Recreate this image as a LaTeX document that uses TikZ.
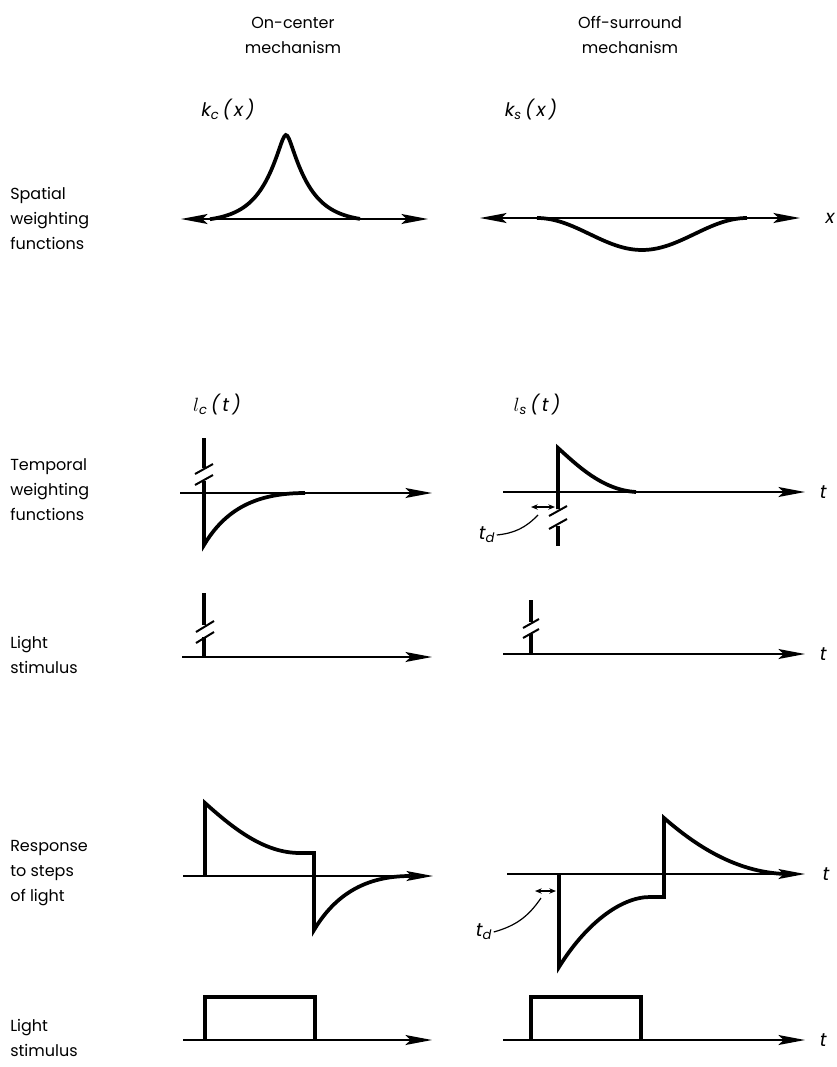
\documentclass[tikz,border=0pt]{standalone}
\usepackage{fontspec}
\setmainfont{Poppins}
\usepackage{tikz}
\usetikzlibrary{arrows.meta, positioning, calc}
\definecolor{ink}{RGB}{0,0,0}
\tikzset{
  axis/.style={-{Stealth[length=20pt,width=7.5pt,inset=4pt]}, line width=1.1pt, color=ink},
  daxis/.style={{Stealth[length=20pt,width=7.5pt,inset=4pt]}-{Stealth[length=20pt,width=7.5pt,inset=4pt]},
    line width=1.1pt, color=ink},
  wave/.style={line width=2.8pt, color=ink},
  brkmark/.style={line width=1.5pt, color=ink},
  tdarrow/.style={{Stealth[length=5pt,width=4pt]}-{Stealth[length=5pt,width=4pt]}, line width=0.9pt, color=ink},
  leader/.style={line width=0.9pt, color=ink},
  rowlabel/.style={anchor=west, align=left, inner sep=0pt, font=\fontsize{12}{18.75}\selectfont},
  collabel/.style={align=center, inner sep=0pt, font=\fontsize{12}{18.75}\selectfont},
  varlabel/.style={inner sep=1pt, font=\fontsize{14}{16}\selectfont\itshape}
}
\begin{document}
\begin{tikzpicture}[x=0.75pt, y=-0.75pt]
  \useasboundingbox (0,0) rectangle (836,1067);

  % column and row titles
  \node[collabel] (oncol)  at (293,35) {On-center\\mechanism};
  \node[collabel] (offcol) at (630,35) {Off-surround\\mechanism};
  \node[rowlabel] (rsp)   at (10,218)  {Spatial\\weighting\\functions};
  \node[rowlabel] (rtw)   at (10,490)  {Temporal\\weighting\\functions};
  \node[rowlabel] (rls1)  at (10,655)  {Light\\stimulus};
  \node[rowlabel] (rresp) at (10,873)  {Response\\to steps\\of light};
  \node[rowlabel] (rls2)  at (10,1038) {Light\\stimulus};

  % spatial weighting functions
  \node[varlabel] (kc) at (228,110) {k\textsubscript{c}\,(\,x\,)};
  \node[varlabel] (ks) at (531,110) {k\textsubscript{s}\,(\,x\,)};
  \coordinate (spe) at (800,218);
  \draw[daxis] (181,219) -- (428,219);
  \draw[daxis] (480,218) -- (spe);
  \node[varlabel, right=18pt of spe] (xlab) {x};
  \draw[wave] plot[domain=-76:74, samples=100, smooth]
    ({286+\x}, {219-84*(exp(-(sqrt(\x*\x+16)-4)/22)-0.04)/0.96});
  \draw[wave] plot[domain=-105:105, samples=60, smooth]
    ({642+\x}, {218+16*(1+cos(\x*1.714286))});

  % temporal weighting functions
  \node[varlabel] (lc) at (217,405) {$l$\textsubscript{c}\,(\,t\,)};
  \node[varlabel] (ls) at (537,405) {$l$\textsubscript{s}\,(\,t\,)};
  \coordinate (twe) at (805,492);
  \draw[axis] (180,493) -- (432,493);
  \draw[axis] (503,492) -- (twe);
  \node[varlabel, right=10pt of twe] (t1) {t};
  \draw[wave] (204,438) -- (204,468);
  \draw[brkmark] (195,474) -- (213,464);
  \draw[brkmark] (195,485) -- (213,475);
  \draw[wave] (204,481) -- (204,545) .. controls (225,510) and (255,493) .. (305,493);
  \draw[wave] (558,509) -- (558,448) .. controls (577,465) and (602,490) .. (636,492);
  \draw[brkmark] (549,516) -- (567,506);
  \draw[brkmark] (549,529) -- (567,519);
  \draw[wave] (558,526) -- (558,546);
  \draw[tdarrow] (531,507) -- (555,507);
  \node[varlabel] (td1) at (487,535) {t\textsubscript{d}};
  \coordinate (tdend1) at (538,515);
  \draw[leader] (td1.east) to[bend right=20] (tdend1);

  % light stimulus (flashes)
  \coordinate (lse) at (805,654);
  \draw[axis] (182,657) -- (432,657);
  \draw[axis] (503,654) -- (lse);
  \node[varlabel, right=10pt of lse] (t2) {t};
  \draw[wave] (204,593) -- (204,625);
  \draw[brkmark] (196,632) -- (214,621);
  \draw[brkmark] (196,643) -- (214,632);
  \draw[wave] (204,637) -- (204,657);
  \draw[wave] (531,600) -- (531,622);
  \draw[brkmark] (523,628) -- (539,619);
  \draw[brkmark] (523,638) -- (539,629);
  \draw[wave] (531,634) -- (531,654);

  % response to steps of light
  \coordinate (rse) at (805,874);
  \draw[axis] (183,876) -- (433,876);
  \draw[axis] (507,874) -- (rse);
  \node[varlabel, right=12pt of rse] (t3) {t};
  \draw[wave] (205,876) -- (205,803) .. controls (235,830) and (265,853) .. (300,853)
    -- (314,853) -- (314,930) .. controls (335,895) and (365,876) .. (410,876);
  \draw[wave] (559,874) -- (559,967) .. controls (585,925) and (620,897) .. (650,897)
    -- (664,897) -- (664,818) .. controls (695,845) and (735,872) .. (785,874);
  \draw[tdarrow] (535,891) -- (556,891);
  \node[varlabel] (td2) at (484,932) {t\textsubscript{d}};
  \coordinate (tdend2) at (541,898);
  \draw[leader] (td2.east) to[bend right=20] (tdend2);

  % light stimulus (steps)
  \coordinate (ste) at (805,1040);
  \draw[axis] (183,1040) -- (432,1040);
  \draw[axis] (503,1040) -- (ste);
  \node[varlabel, right=10pt of ste] (t4) {t};
  \draw[wave] (205,1040) -- (205,997) -- (315,997) -- (315,1040);
  \draw[wave] (531,1040) -- (531,997) -- (641,997) -- (641,1040);
\end{tikzpicture}
\end{document}
